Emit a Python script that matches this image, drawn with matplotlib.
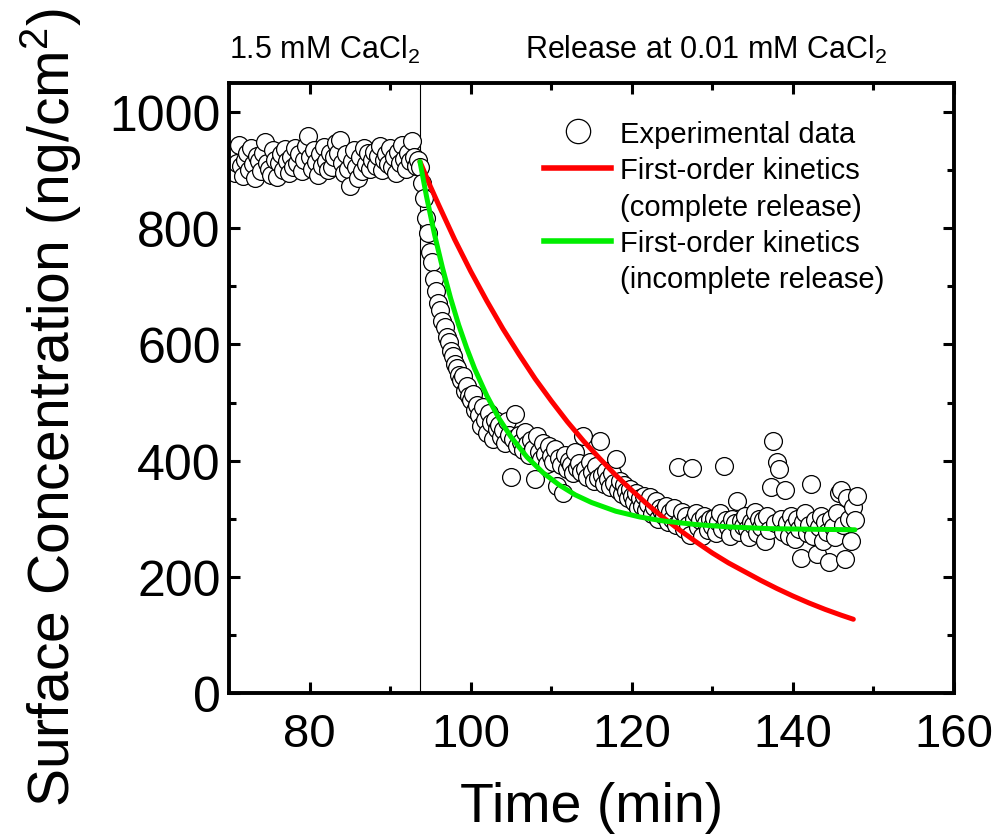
import numpy as np
import matplotlib.pyplot as plt
from matplotlib.lines import Line2D

plt.rcParams['font.family'] = ['Liberation Sans', 'DejaVu Sans']
plt.rcParams['mathtext.fontset'] = 'custom'
plt.rcParams['mathtext.rm'] = 'Liberation Sans'
plt.rcParams['mathtext.it'] = 'Liberation Sans'

# experimental data, one point every 0.25 min starting at 70 min
t_start = 70.0
t_step = 0.25
conc = [
    905, 925, 935, 895, 912, 944, 908, 890,   # 70
    918, 930, 900, 938, 910, 886, 925, 915,   # 72
    898, 930, 948, 912, 902, 892, 934, 918,   # 74
    888, 912, 928, 900, 936, 915, 896, 922,   # 76
    906, 938, 912, 928, 898, 918, 942, 958,   # 78
    922, 902, 934, 914, 892, 928, 908, 940,   # 80
    915, 900, 930, 905, 922, 946, 930, 952,   # 82
    912, 895, 928, 902, 873, 915, 935, 905,   # 84
    886, 922, 898, 938, 910, 930, 902, 918,   # 86
    932, 908, 924, 942, 900, 918, 928, 910,   # 88
    938, 905, 922, 895, 932, 912, 944, 920,   # 90
    902, 930, 915, 950, 922, 908, 918, 905,   # 92
    878, 852, 818, 792, 760, 742, 712, 692,   # 94
    672, 660, 641, 630, 612, 605, 588, 580,   # 96
    566, 560, 548, 538, 545, 520, 528, 512,   # 98
    505, 515, 488, 496, 478, 460, 492, 470,   # 100
    448, 482, 465, 438, 470, 455, 462, 440,   # 102
    452, 430, 468, 445, 372, 438, 480, 425,   # 104
    445, 432, 418, 450, 428, 410, 436, 420,   # 106
    368, 442, 415, 402, 430, 412, 395, 425,   # 108
    408, 398, 420, 356, 404, 392, 345, 410,   # 110
    385, 400, 392, 378, 415, 388, 396, 380,   # 112
    442, 385, 372, 398, 380, 365, 390, 370,   # 114
    434, 375, 360, 382, 368, 355, 378, 362,   # 116
    403, 350, 365, 342, 358, 348, 336, 352,   # 118
    340, 328, 345, 318, 335, 322, 340, 315,   # 120
    325, 338, 308, 320, 330, 300, 318, 312,   # 122
    305, 322, 295, 312, 300, 318, 290, 389,   # 124
    296, 312, 282, 305, 290, 272, 388, 300,   # 126
    310, 285, 298, 270, 305, 292, 280, 300,   # 128
    288, 302, 275, 295, 310, 283, 390, 298,   # 130
    285, 270, 300, 292, 330, 278, 296, 288,   # 132
    305, 282, 268, 295, 290, 312, 275, 300,   # 134
    285, 298, 262, 305, 280, 355, 434, 292,   # 136
    397, 385, 300, 278, 350, 292, 270, 305,   # 138
    288, 265, 300, 282, 232, 295, 310, 275,   # 140
    290, 360, 270, 298, 240, 285, 305, 262,   # 142
    295, 278, 226, 300, 285, 268, 310, 345,   # 144
    350, 290, 230, 335, 300, 262, 320, 298,   # 146
    340,
]
time = t_start + t_step * np.arange(len(conc))

# first-order kinetics, complete release
t_red = [93.7, 95, 96, 98, 100, 102, 104, 106, 108, 110, 112, 114, 116, 118,
         120, 122, 124, 126, 128, 130, 132, 134, 136, 138, 140, 142, 144, 146, 147.5]
c_red = [915, 872, 841, 781, 726, 675, 627, 583, 541, 503, 467, 434, 404, 375,
         349, 324, 301, 280, 260, 241, 224, 209, 194, 180, 167, 155, 144, 134, 127]

# first-order kinetics, incomplete release
t_green = [93.7, 94.5, 95.5, 96.5, 97.5, 98.5, 99.5, 100.5, 102, 103.5, 105, 107, 109,
           111, 113, 115, 118, 121, 124, 128, 132, 137, 142, 147.7]
c_green = [915, 856, 790, 732, 680, 634, 594, 558, 512, 473, 441, 406, 379,
           358, 341, 328, 313, 303, 296, 290, 286, 283, 282, 281]

switch_time = 93.7

fig = plt.figure(figsize=(9.97, 8.37), dpi=100)
ax = fig.add_axes([0.2297, 0.1708, 0.7272, 0.7288])

ax.scatter(time, conc, s=165, facecolor='white', edgecolor='black', linewidth=0.9,
           zorder=2)
ax.plot(t_red, c_red, color='#ff0000', lw=3.6, solid_capstyle='round', zorder=3)
ax.plot(t_green, c_green, color='#00ee00', lw=3.6, solid_capstyle='round', zorder=4)
ax.axvline(switch_time, color='black', lw=0.8, zorder=1)

ax.set_xlim(70, 160)
ax.set_ylim(0, 1050)
ax.set_xticks([80, 100, 120, 140, 160])
ax.set_xticks([90, 110, 130, 150], minor=True)
ax.set_yticks([0, 200, 400, 600, 800, 1000])
ax.set_yticks([100, 300, 500, 700, 900], minor=True)

for sp in ax.spines.values():
    sp.set_linewidth(2.8)
ax.tick_params(which='both', direction='in', top=True, right=True, width=2.2)
ax.tick_params(which='major', length=8)
ax.tick_params(which='minor', length=5)
ax.tick_params(axis='x', labelsize=34, pad=14)
ax.tick_params(axis='y', labelsize=36, pad=6)

ax.set_xlabel('Time (min)', fontsize=40, labelpad=18)
ax.set_ylabel('Surface Concentration (ng/cm$^2$)', fontsize=41)
ax.yaxis.set_label_coords(-0.2, 0.47)

ax.text(0.0, 1.03, '1.5 mM CaCl$_2$', transform=ax.transAxes, fontsize=22,
        ha='left', va='bottom')
ax.text(0.408, 1.03, 'Release at 0.01 mM CaCl$_2$', transform=ax.transAxes, fontsize=22,
        ha='left', va='bottom')

handles = [
    Line2D([], [], ls='none', marker='o', markersize=17.5, markerfacecolor='white',
           markeredgecolor='black', markeredgewidth=0.9),
    Line2D([], [], color='#ff0000', lw=4),
    Line2D([], [], color='none'),
    Line2D([], [], color='#00ee00', lw=4),
    Line2D([], [], color='none'),
]
labels = ['Experimental data', 'First-order kinetics', '(complete release)',
          'First-order kinetics', '(incomplete release)']
ax.legend(handles, labels, loc='upper left', bbox_to_anchor=(0.435, 0.94),
          frameon=False, fontsize=21, handlelength=2.3, handletextpad=0.3,
          labelspacing=0.29, borderpad=0, borderaxespad=0)

fig.savefig('out.png', dpi=100)
